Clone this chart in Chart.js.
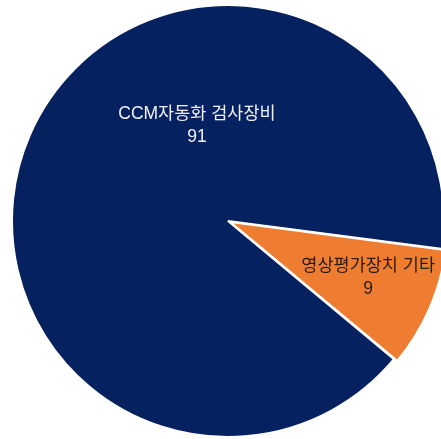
<!DOCTYPE html>
<html>
<head>
<meta charset="utf-8">
<script src="https://cdn.jsdelivr.net/npm/chart.js@4"></script>
<style>
  html, body { margin: 0; padding: 0; background: #fff; }
  #wrap { width: 441px; height: 439px; }
</style>
</head>
<body>
<div id="wrap"><canvas id="myChart"></canvas></div>
<script>
// donnees du graphe
var categories = ['CCM자동화 검사장비', '영상평가장치 기타'];
var valeurs = [91, 9];
var couleurs = ['#06215f', '#ee7d31'];
var couleursTexte = ['#f0f0f4', '#2a1c12'];

// placement des etiquettes : angle (deg, canvas) et fraction du rayon
var placeEtiquettes = [{ angle: 252, r: 0.465 }, { angle: 22, r: 0.70 }];

const etiquettes = {
    id: 'etiquettes',
    afterDatasetsDraw(chart) {
        const ctx = chart.ctx;
        const arcs = chart.getDatasetMeta(0).data;
        ctx.save();
        ctx.font = '17.5px "Liberation Sans", "Noto Sans CJK KR", sans-serif';
        ctx.textAlign = 'center';
        ctx.textBaseline = 'middle';
        arcs.forEach(function (arc, i) {
            const p = arc.getProps(['x', 'y', 'outerRadius'], true);
            const a = placeEtiquettes[i].angle * Math.PI / 180;
            const cx = p.x + Math.cos(a) * p.outerRadius * placeEtiquettes[i].r;
            const cy = p.y + Math.sin(a) * p.outerRadius * placeEtiquettes[i].r;
            ctx.fillStyle = couleursTexte[i];
            ctx.fillText(categories[i], cx, cy - 11);
            ctx.fillText(String(valeurs[i]), cx, cy + 12);
        });
        ctx.restore();
    }
};

const ctx = document.getElementById('myChart');
new Chart(ctx, {
    type: 'pie',
    data: {
        labels: categories,
        datasets: [{
            data: valeurs,
            backgroundColor: couleurs,
            borderColor: '#ffffff',
            borderWidth: 2,
            offset: [0, 10],
            clip: false
        }]
    },
    options: {
        responsive: true,
        maintainAspectRatio: false,
        animation: false,
        events: [],
        rotation: 129.8,
        radius: 216,
        layout: { padding: { left: 15, right: 0, top: 3, bottom: 0 } },
        plugins: {
            legend: { display: false },
            tooltip: { enabled: false }
        }
    },
    plugins: [etiquettes]
});
</script>
</body>
</html>
